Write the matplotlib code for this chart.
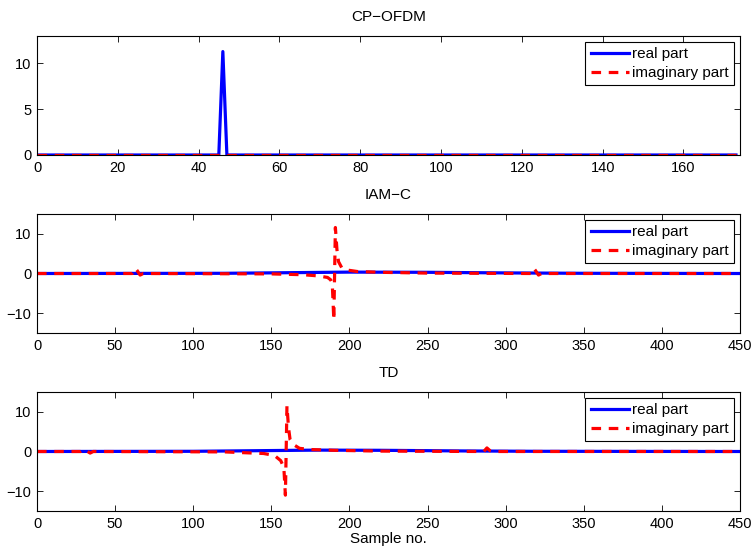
import numpy as np
import matplotlib.pyplot as plt

plt.rcParams['font.family'] = ['Liberation Sans', 'DejaVu Sans']

# CP-OFDM samples (key points)
cp_x = [0, 45, 46, 47, 173]
cp_real = [0, 0, 11.3, 0, 0]
cp_imag_x = [0, 173]
cp_imag = [0, 0]

# IAM-C samples
iam_real_x = [0, 120, 160, 200, 250, 300, 350, 449]
iam_real = [0, 0.05, 0.2, 0.35, 0.3, 0.15, 0.05, 0]
iam_imag_x = [0, 61, 63, 64, 66, 68, 150, 170, 180, 186, 188, 189, 190, 191,
              192, 193, 195, 198, 205, 220, 250, 316, 318, 319, 321, 323, 449]
iam_imag = [0, 0, 1.3, 0.8, -0.4, 0, -0.1, -0.3, -0.6, -1.0, -1.6, -2.5, -11.7,
            11.6, 6.0, 3.0, 1.5, 0.9, 0.5, 0.3, 0.1, 0, 1.3, 0.8, -0.4, 0, 0]

# TD samples
td_real_x = [0, 100, 140, 180, 220, 270, 320, 449]
td_real = [0, 0.05, 0.2, 0.35, 0.3, 0.15, 0.05, 0]
td_imag_x = [0, 28, 30, 32, 34, 36, 120, 145, 152, 156, 158, 159, 160, 161,
             162, 164, 168, 175, 190, 220, 286, 288, 290, 292, 449]
td_imag = [0, 0, 0.5, 0.1, -0.4, 0, -0.1, -0.5, -1.0, -2.3, -4.0, -11.0, 11.5,
           6.0, 3.0, 1.8, 0.8, 0.5, 0.3, 0.1, 0, 0.9, 0.2, 0, 0]

titles = ['CP\u2212OFDM', 'IAM\u2212C', 'TD']

fig = plt.figure(figsize=(7.53, 5.47), dpi=100)
left, width = 37 / 753, 703 / 753
ax1 = fig.add_axes([left, 1 - 155 / 547, width, 119 / 547])
ax2 = fig.add_axes([left, 1 - 333 / 547, width, 119 / 547])
ax3 = fig.add_axes([left, 1 - 511 / 547, width, 119 / 547])

data = [(cp_x, cp_real, cp_imag_x, cp_imag),
        (iam_real_x, iam_real, iam_imag_x, iam_imag),
        (td_real_x, td_real, td_imag_x, td_imag)]

for ax, title, (rx, ry, ix, iy) in zip([ax1, ax2, ax3], titles, data):
    ax.plot(rx, ry, color='b', lw=2.3, label='real part')
    ax.plot(ix, iy, color='r', lw=2.3, ls=(0, (3.0, 2.4)), label='imaginary part')
    ax.set_title(title, fontsize=11, pad=11)
    ax.tick_params(direction='in', top=True, right=True, labelsize=10.5,
                   length=4, width=0.6, pad=4)
    for s in ax.spines.values():
        s.set_linewidth(0.8)
    leg = ax.legend(loc='upper right', fontsize=11, handlelength=2.5,
                    handletextpad=0.2, borderpad=0.35, labelspacing=0.3,
                    fancybox=False, framealpha=1, borderaxespad=0.4)
    leg.get_frame().set_edgecolor('k')
    leg.get_frame().set_linewidth(0.8)

ax1.set_xlim(0, 174)
ax1.set_ylim(0, 13)
ax1.set_xticks(np.arange(0, 161, 20))
ax1.set_yticks([0, 5, 10])

for ax in [ax2, ax3]:
    ax.set_xlim(0, 450)
    ax.set_ylim(-15, 15)
    ax.set_xticks(np.arange(0, 451, 50))
    ax.set_yticks([-10, 0, 10])

ax3.set_xlabel('Sample no.', fontsize=11, labelpad=1)

plt.savefig('out.png', dpi=100)
